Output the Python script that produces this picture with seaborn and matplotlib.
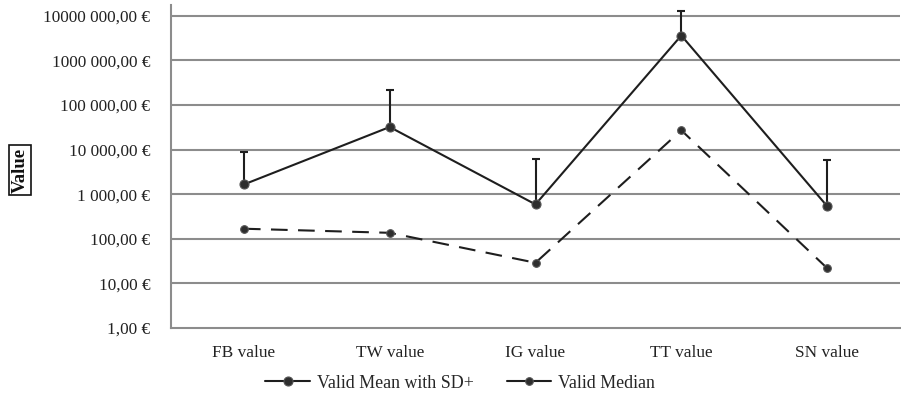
import matplotlib
matplotlib.use("Agg")
import matplotlib.pyplot as plt
import seaborn as sns
import pandas as pd
from matplotlib.lines import Line2D

categories = ["FB value", "TW value", "IG value", "TT value", "SN value"]
mean_values = [1650, 32000, 590, 3600000, 540]
sd_upper = [8900, 220000, 6000, 13000000, 5700]
median_values = [168, 136, 29, 27000, 22]
ytick_values = [1, 10, 100, 1000, 10000, 100000, 1000000, 10000000]
ytick_labels = ["1,00 €", "10,00 €", "100,00 €", "1 000,00 €", "10 000,00 €",
                "100 000,00 €", "1000 000,00 €", "10000 000,00 €"]
series_names = ["Valid Mean with SD+", "Valid Median"]

sns.set_theme(style="white")
plt.rcParams["font.family"] = ["Liberation Serif", "DejaVu Serif"]

df = pd.DataFrame({
    "category": categories * 2,
    "value": mean_values + median_values,
    "series": [series_names[0]] * 5 + [series_names[1]] * 5,
})

fig = plt.figure(figsize=(9.01, 4.0), dpi=100)
ax = fig.add_axes([171 / 901, 1 - 328 / 400, (900 - 171) / 901, (328 - 5) / 400])

line_color = "#1e1e1e"
marker_color = "#2e2e2e"
grid_color = "#8c8c8c"

# error bars (upper only)
lower = [0] * len(mean_values)
upper = [s - m for s, m in zip(sd_upper, mean_values)]
ax.errorbar(categories, mean_values, yerr=[lower, upper], fmt="none",
            ecolor=line_color, elinewidth=1.5, capsize=3, capthick=1.5, zorder=3)

mean_df = df[df["series"] == series_names[0]]
med_df = df[df["series"] == series_names[1]]
sns.lineplot(data=mean_df, x="category", y="value", ax=ax, color=line_color,
             linewidth=1.5, marker="o", markersize=6.5, markeredgecolor="#555555",
             markeredgewidth=0.8, markerfacecolor=marker_color, sort=False, zorder=4)
sns.lineplot(data=med_df, x="category", y="value", ax=ax, color=line_color,
             linewidth=1.5, marker="o", markersize=5.5, markeredgecolor="#555555",
             markeredgewidth=0.8, markerfacecolor=marker_color, sort=False, zorder=4)
ax.lines[-1].set_dashes((8, 5))

ax.set_yscale("log")
ax.set_ylim(1, 10 ** 7.24)
ax.set_xlim(-0.5, 4.5)
ax.set_yticks(ytick_values)
ax.set_yticklabels(ytick_labels)
ax.yaxis.set_minor_locator(matplotlib.ticker.NullLocator())
ax.tick_params(axis="both", length=0, labelsize=12.4, colors="#222222")
ax.tick_params(axis="y", pad=15)
ax.tick_params(axis="x", pad=12)
ax.set_xlabel("")
ax.set_ylabel("")
for v in ytick_values[1:]:
    ax.axhline(v, color=grid_color, linewidth=1.5, zorder=1)
for s in ["top", "right"]:
    ax.spines[s].set_visible(False)
for s in ["left", "bottom"]:
    ax.spines[s].set_color(grid_color)
    ax.spines[s].set_linewidth(1.5)

fig.text(20 / 901, 1 - 170 / 400, "Value", rotation=90, ha="center", va="center",
         fontsize=13.5, fontweight="bold", color="#111111",
         bbox=dict(boxstyle="square,pad=0.15", facecolor="white", edgecolor="#111111", linewidth=1.2))

handles = [
    Line2D([], [], color=line_color, linewidth=1.5, marker="o", markersize=6.5,
           markerfacecolor=marker_color, markeredgecolor="#555555", markeredgewidth=0.8),
    Line2D([], [], color=line_color, linewidth=1.5, marker="o", markersize=5.5,
           markerfacecolor=marker_color, markeredgecolor="#555555", markeredgewidth=0.8),
]
if ax.get_legend():
    ax.get_legend().remove()
fig.legend(handles, series_names, loc="center", ncol=2, frameon=False,
           bbox_to_anchor=(460 / 901, 1 - 383 / 400), fontsize=12.9,
           handlelength=2.5, handletextpad=0.35, columnspacing=1.85)

fig.savefig("out.png", dpi=100)
